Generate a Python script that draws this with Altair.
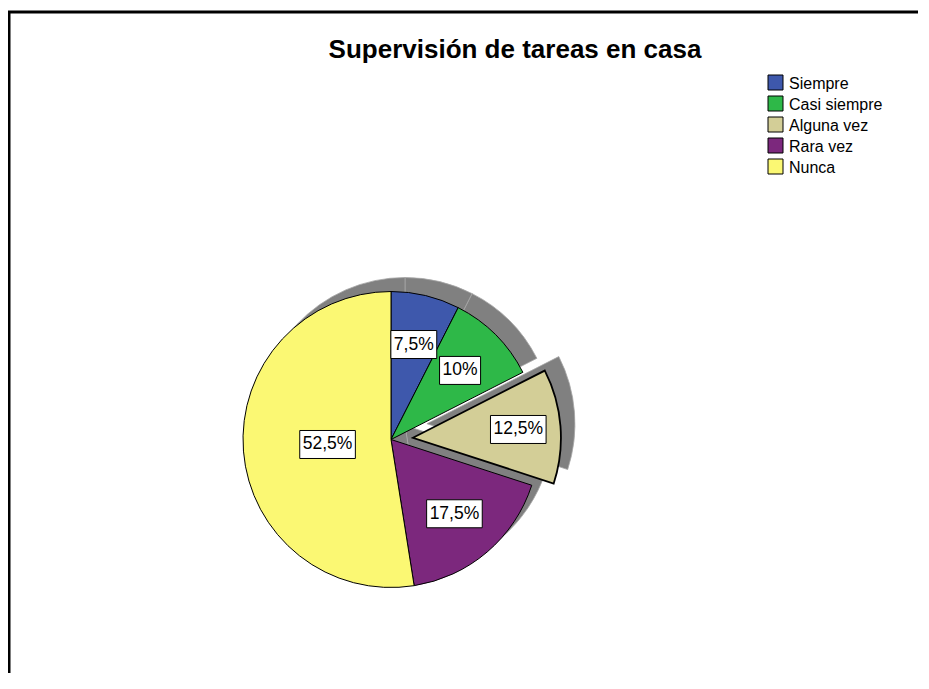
import math
import altair as alt
import pandas as pd

# ---- data ----
CATEGORIES = ["Siempre", "Casi siempre", "Alguna vez", "Rara vez", "Nunca"]
PERCENTS = [7.5, 10, 12.5, 17.5, 52.5]
COLORS = ["#3E58AC", "#2EB848", "#D3CE97", "#7C287D", "#FBF873"]
TITLE = "Supervisión de tareas en casa"
EXPLODED = "Alguna vez"

df = pd.DataFrame({"cat": CATEGORIES, "pct": PERCENTS,
                   "idx": list(range(len(CATEGORIES)))})

# ---- layout / style ----
W, H = 910, 665
CX, CY, R = 383, 431.5, 148
SHADOW_DX, SHADOW_DY = 14, -14
EXPLODE = 22
FONT = "Liberation Sans"
LABEL_FS = 17.5
LEG_X, LEG_Y, LEG_DY = 767.5, 74.5, 21

color_scale = alt.Scale(domain=CATEGORIES, range=COLORS)
theta_scale = alt.Scale(domain=[0, 100], range=[0, 2 * math.pi])

base = alt.Chart(df).transform_window(
    cum="sum(pct)", sort=[alt.SortField("idx")], frame=[None, 0]
).transform_calculate(
    start="datum.cum - datum.pct",
    ang="(datum.cum - datum.pct / 2) / 100 * 2 * PI",
    isx=f"datum.cat === '{EXPLODED}' ? 1 : 0",
    label="replace(format(datum.pct, '.1~f'), '.', ',') + '%'",
).transform_calculate(
    cx=f"{CX} + datum.isx * {EXPLODE} * sin(datum.ang)",
    cy=f"{CY} - datum.isx * {EXPLODE} * cos(datum.ang)",
    lr=f"datum.pct > 50 ? {0.43 * R} : {0.66 * R} + datum.isx * 8",
    ndig="length(replace(datum.label, regexp('[^0-9]', 'g'), ''))",
    ncom="length(replace(datum.label, regexp('[^,]', 'g'), ''))",
).transform_calculate(
    sx=f"datum.cx + {SHADOW_DX}",
    sy=f"datum.cy + {SHADOW_DY}",
    lx="datum.cx + datum.lr * sin(datum.ang)",
    ly="datum.cy - datum.lr * cos(datum.ang)",
    bw=f"(datum.ndig * 0.556 + datum.ncom * 0.278 + 0.889) * {LABEL_FS} + 6",
).transform_calculate(
    bx1="datum.lx - datum.bw / 2",
    bx2="datum.lx + datum.bw / 2",
    by1="datum.ly - 14",
    by2="datum.ly + 14",
)

theta = alt.Theta("start:Q", stack=False, scale=theta_scale)
theta2 = alt.Theta2("cum:Q")

shadow = base.mark_arc(radius=R, fill="#808080", stroke="#a6a6a6",
                       strokeWidth=0.8).encode(
    theta=theta, theta2=theta2,
    x=alt.X("sx:Q", scale=None), y=alt.Y("sy:Q", scale=None),
)

slices = base.mark_arc(radius=R, stroke="black", opacity=1).encode(
    theta=theta, theta2=theta2,
    x=alt.X("cx:Q", scale=None), y=alt.Y("cy:Q", scale=None),
    color=alt.Color("cat:N", scale=color_scale, legend=None),
    strokeWidth=alt.condition(alt.datum.isx == 1, alt.value(1.8),
                              alt.value(1)),
)

boxes = base.mark_rect(fill="white", stroke="black", strokeWidth=1).encode(
    x=alt.X("bx1:Q", scale=None), x2="bx2:Q",
    y=alt.Y("by1:Q", scale=None), y2="by2:Q",
)

labels = base.mark_text(font=FONT, fontSize=LABEL_FS, color="black").encode(
    x=alt.X("lx:Q", scale=None), y=alt.Y("ly:Q", scale=None),
    text="label:N",
)

# legend (manual, SPSS-like)
leg_base = alt.Chart(df).transform_calculate(
    gy=f"{LEG_Y} + datum.idx * {LEG_DY}"
)
leg_sym = leg_base.mark_square(size=225, stroke="black", strokeWidth=1,
                               opacity=1).encode(
    x=alt.value(LEG_X), y=alt.Y("gy:Q", scale=None),
    color=alt.Color("cat:N", scale=color_scale, legend=None),
)
leg_txt = leg_base.mark_text(font=FONT, fontSize=16, align="left",
                             color="black", dy=1).encode(
    x=alt.value(LEG_X + 13.5), y=alt.Y("gy:Q", scale=None), text="cat:N",
)

title = alt.Chart(pd.DataFrame({"t": [TITLE]})).mark_text(
    font=FONT, fontSize=26, fontWeight="bold", color="black",
    baseline="alphabetic"
).encode(text="t:N", x=alt.value(507), y=alt.value(50))

frame_left = alt.Chart(pd.DataFrame({"a": [0]})).mark_rule(
    color="black", strokeWidth=3
).encode(x=alt.value(1), y=alt.value(3), y2=alt.value(H + 10))

frame_top = alt.Chart(pd.DataFrame({"a": [0]})).mark_rule(
    color="black", strokeWidth=3
).encode(x=alt.value(0), x2=alt.value(W + 10), y=alt.value(4))

chart = alt.layer(
    shadow, slices, boxes, labels, leg_sym, leg_txt, title,
    frame_left, frame_top
).properties(
    width=W, height=H, autosize="none", padding=0
).configure_view(stroke=None)

chart.save("out.html", embed_options={"renderer": "svg", "actions": False})
